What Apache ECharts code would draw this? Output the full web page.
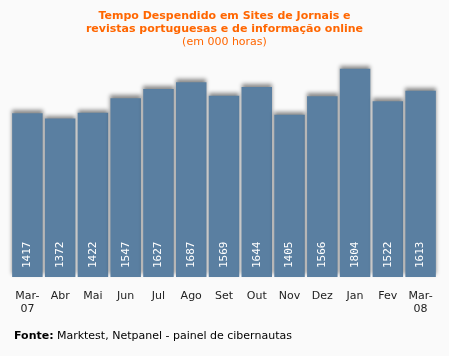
<!DOCTYPE html>
<html><head><meta charset="utf-8">
<script src="https://cdn.jsdelivr.net/npm/echarts@6/dist/echarts.min.js"></script>
<style>html,body{margin:0;padding:0;background:#fafafa;}#c{width:449px;height:356px;}</style>
</head><body><div id="c"></div>
<script>
var categories = ['Mar-\n07','Abr','Mai','Jun','Jul','Ago','Set','Out','Nov','Dez','Jan','Fev','Mar-\n08'];
var values = [1417,1372,1422,1547,1627,1687,1569,1644,1405,1566,1804,1522,1613];
var titleLines = ['Tempo Despendido em Sites de Jornais e','revistas portuguesas e de informação online'];
var subtitle = '(em 000 horas)';
var chart = echarts.init(document.getElementById('c'), null, {renderer:'canvas'});
chart.setOption({
  backgroundColor:'#fafafa',
  animation:false,
  title:{
    text: titleLines.join('\n'),
    subtext: subtitle,
    left:'center', top:4, itemGap:0,
    textStyle:{color:'#ff6600', fontFamily:'DejaVu Sans', fontWeight:'bold', fontSize:11, lineHeight:13.5},
    subtextStyle:{color:'#ff6600', fontFamily:'DejaVu Sans', fontSize:11, lineHeight:13}
  },
  grid:{left:11, right:12, top:46, bottom:79, containLabel:false},
  xAxis:{type:'category', data:categories,
    axisLine:{show:false}, axisTick:{show:false},
    axisLabel:{color:'#222', fontFamily:'DejaVu Sans', fontSize:11, lineHeight:13, margin:13, interval:0}},
  yAxis:{type:'value', min:0, max:2000, show:false, splitLine:{show:false}},
  series:[{type:'bar', data:values, barCategoryGap:'7%',
    itemStyle:{color:'#5a7fa1', shadowColor:'rgba(0,0,0,0.45)', shadowBlur:4, shadowOffsetY:-3},
    label:{show:true, position:'insideBottom', rotate:90, align:'left', verticalAlign:'middle', distance:9,
      color:'#fff', fontFamily:'DejaVu Sans Mono', fontSize:11}
  }],
  graphic:[{type:'text', left:14, top:330,
    style:{rich:{b:{fontWeight:'bold', fontFamily:'DejaVu Sans', fontSize:11, fill:'#000'}, n:{fontFamily:'DejaVu Sans', fontSize:11, fill:'#000'}},
      text:'{b|Fonte:} {n|Marktest, Netpanel - painel de cibernautas}'}}]
});
</script></body></html>
